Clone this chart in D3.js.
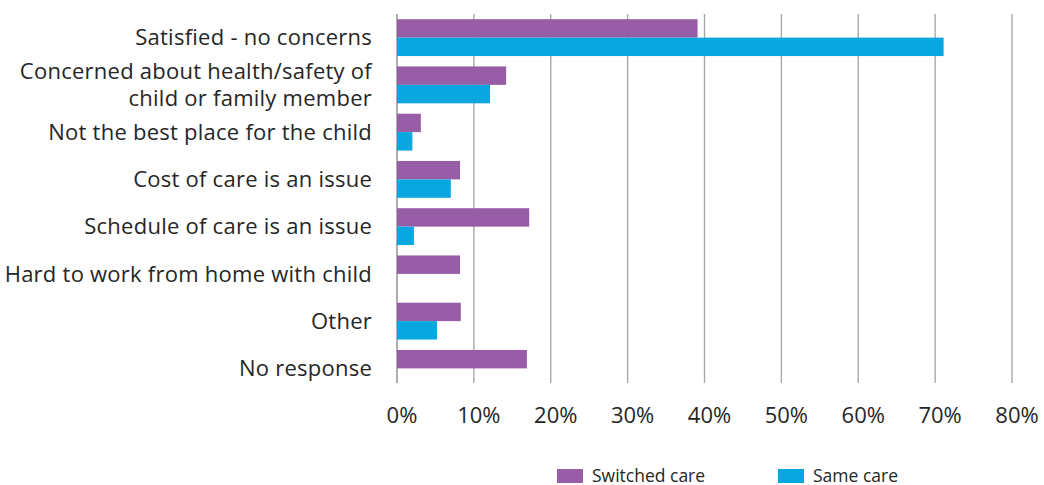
<!DOCTYPE html>
<html>
<head>
<meta charset="utf-8">
<script src="https://cdn.jsdelivr.net/npm/d3@7"></script>
<style>
  html, body { margin: 0; padding: 0; background: #fff; }
  svg { display: block; }
</style>
</head>
<body>
<svg id="chart" width="1044" height="485"></svg>
<script>
// Reasons for child care arrangement, by whether the family switched care
const categories = [
  ["Satisfied - no concerns"],
  ["Concerned about health/safety of", "child or family member"],
  ["Not the best place for the child"],
  ["Cost of care is an issue"],
  ["Schedule of care is an issue"],
  ["Hard to work from home with child"],
  ["Other"],
  ["No response"]
];
const seriesNames = ["Switched care", "Same care"];
const switchedCare = [39.1, 14.2, 3.1, 8.2, 17.2, 8.2, 8.3, 16.9];
const sameCare     = [71.1, 12.1, 2.0, 7.0, 2.2, 0, 5.2, 0];
const tickValues   = [0, 10, 20, 30, 40, 50, 60, 70, 80];
const colors = ["#975da6", "#09a7df"];

const svg = d3.select("#chart");
const font = "'Open Sans', sans-serif";

const x = d3.scaleLinear().domain([0, 80]).range([397, 1012]);
const y = d3.scaleBand()
  .domain(d3.range(categories.length))
  .range([14, 392])
  .paddingInner(0.22)
  .paddingOuter(0.11);
const ySub = d3.scaleBand()
  .domain([0, 1])
  .range([0, y.bandwidth()]);

// Vertical gridlines
svg.append("g")
  .selectAll("line")
  .data(tickValues)
  .join("line")
  .attr("x1", d => x(d)).attr("x2", d => x(d))
  .attr("y1", 14).attr("y2", 383)
  .attr("stroke", (d, i) => i === 0 ? "#8c8c8c" : "#a8a8a8")
  .attr("stroke-width", 1.4);

// Bars
const series = [switchedCare, sameCare];
const groups = svg.append("g")
  .selectAll("g")
  .data(categories.map((c, i) => i))
  .join("g")
  .attr("transform", i => `translate(0,${y(i)})`);

groups.selectAll("rect")
  .data(i => series.map((s, k) => ({ k, v: s[i] })))
  .join("rect")
  .attr("x", x(0))
  .attr("y", d => ySub(d.k))
  .attr("width", d => x(d.v) - x(0))
  .attr("height", ySub.bandwidth())
  .attr("fill", d => colors[d.k]);

// Category labels
const labels = svg.append("g")
  .selectAll("text")
  .data(categories)
  .join("text")
  .attr("text-anchor", "end")
  .attr("font-family", font)
  .attr("font-size", 22)
  .attr("letter-spacing", 0.25)
  .attr("fill", "#262626")
  .attr("x", 372)
  .attr("y", (d, i) => y(i) + y.bandwidth() / 2);

labels.selectAll("tspan")
  .data(d => d)
  .join("tspan")
  .attr("x", 372)
  .attr("dy", (t, j, nodes) => {
    const n = nodes.length;
    return j === 0 ? `${0.35 - (n - 1) * 0.6}em` : "1.2em";
  })
  .text(t => t);

// X axis tick labels
svg.append("g")
  .selectAll("text")
  .data(tickValues)
  .join("text")
  .attr("x", d => x(d) + 5)
  .attr("y", 423)
  .attr("text-anchor", "middle")
  .attr("font-family", font)
  .attr("font-size", 22)
  .attr("fill", "#262626")
  .text(d => d + "%");

// Legend
const legendX = [557, 778];
const legend = svg.append("g")
  .selectAll("g")
  .data(seriesNames)
  .join("g")
  .attr("transform", (d, i) => `translate(${legendX[i]},469)`);
legend.append("rect")
  .attr("width", 26).attr("height", 14)
  .attr("fill", (d, i) => colors[i]);
legend.append("text")
  .attr("x", 35).attr("y", 12.5)
  .attr("font-family", font)
  .attr("font-size", 17.5)
  .attr("fill", "#262626")
  .text(d => d);
</script>
</body>
</html>
